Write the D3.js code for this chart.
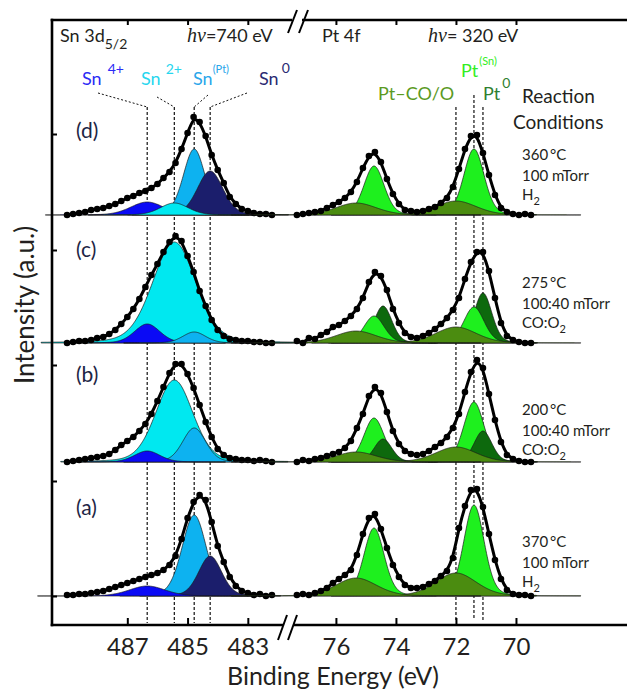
<!DOCTYPE html>
<html><head><meta charset="utf-8">
<script src="https://cdn.jsdelivr.net/npm/d3@7"></script>
<style>
body{margin:0;background:#fff}
svg{display:block}
text{font-family:Lato,'Open Sans',sans-serif;fill:#231f20}
</style>
</head><body>
<svg id="c" width="627" height="690"></svg>
<script>
// ---------------- DATA ----------------
// energy grids (eV)
const SN_E = [489.0,488.8,488.6,488.4,488.2,488.0,487.8,487.6,487.4,487.2,487.0,486.8,486.6,486.4,486.2,486.0,485.8,485.6,485.4,485.2,485.0,484.8,484.6,484.4,484.2,484.0,483.8,483.6,483.4,483.2,483.0,482.8,482.6,482.4,482.2];
const PT_E = [77.3,77.1,76.9,76.7,76.5,76.3,76.1,75.9,75.7,75.5,75.3,75.1,74.9,74.7,74.5,74.3,74.1,73.9,73.7,73.5,73.3,73.1,72.9,72.7,72.5,72.3,72.1,71.9,71.7,71.5,71.3,71.1,70.9,70.7,70.5,70.3,70.1,69.9,69.7,69.5];

// measured intensities (counts above each spectrum's baseline)
const snDotsA = [1,1,2,2,3,4,5,7,9,11,13,15,17,19,21,23,26,31,40,57,78,94,101,96,74,50,34,19,10,5,3,1,2,0,1];
const snDotsB = [0,1,2,3,4,5,6,8,12,17,21,25,31,38,48,61,75,89,98,98,88,74,57,40,25,13,7,4,3,2,2,1,2,1,0];
const snDotsC = [0,1,2,2,3,5,6,9,13,19,26,34,44,56,68,79,91,101,107,102,87,71,52,37,23,13,7,4,3,2,2,1,1,0,0];
const snDotsD = [0,1,2,3,5,6,7,9,11,14,17,19,22,24,27,31,37,43,52,66,82,98,93,79,60,45,32,18,11,6,4,2,1,1,0];
const ptDotsA = [1,2,1,3,5,8,13,17,21,26,41,62,78,82,67,48,31,19,11,8,8,9,12,15,20,25,38,68,90,106,107,89,62,36,17,6,2,1,1,0];
const ptDotsB = [0,2,1,3,4,6,8,10,14,21,34,48,66,75,69,50,31,18,11,8,7,8,11,15,19,25,34,48,70,90,102,94,68,42,20,7,3,1,0,0];
const ptDotsC = [2,0,5,4,8,11,16,18,22,27,34,45,61,71,67,53,34,20,10,6,5,7,10,14,19,25,33,45,64,81,91,91,72,45,20,7,3,1,0,0];
const ptDotsD = [0,1,2,3,4,7,10,13,17,23,33,47,59,63,53,36,21,11,5,4,3,4,6,8,12,17,28,46,66,79,80,62,40,20,7,3,1,0,1,0];

// spectrum baselines (vertical offsets, counts) for panels a..d
const panels = ["(a)","(b)","(c)","(d)"];
const offsets = [0, 134, 253, 381];

// Sn 3d5/2 components
const snNames   = ["Sn4+","Sn2+","Sn(Pt)","Sn0"];
const snCenters = [486.34, 485.44, 484.78, 484.25];
const snColors  = ["#0a0af5","#00e8f0","#0db2f0","#1b1e6c"];
const snHeightA = [10, 0, 81, 40];   const snWidthA = [1.4, 1.2, 0.95, 0.9];
const snHeightB = [11, 82, 34, 0];   const snWidthB = [1.0, 1.45, 0.9, 0.9];
const snHeightC = [19, 101, 11, 0];  const snWidthC = [1.0, 1.7, 0.9, 0.9];
const snHeightD = [13, 12, 66, 44];  const snWidthD = [1.3, 1.1, 0.85, 1.0];

// Pt 4f components (4f7/2 and 4f5/2)
const ptNames     = ["Pt(Sn)","Pt0","Pt-CO/O"];
const ptCenters72 = [71.4, 71.1, 72.0];
const ptCenters52 = [74.73, 74.43, 75.33];
const ptColors    = ["#1ef01e","#0d690d","#4b8c10"];
const ptWidths    = [0.8, 0.7, 1.6];
const ptH72A = [91, 0, 23];  const ptH52A = [68, 0, 18];
const ptH72B = [60, 31, 15]; const ptH52B = [44, 23, 10];
const ptH72C = [36, 50, 16]; const ptH52C = [27, 37, 12];
const ptH72D = [66, 0, 14];  const ptH52D = [49, 0, 12];

// axes
const snTicks = [487, 485, 483];
const ptTicks = [76, 74, 72, 70];
const yTicks  = [0, 115, 231, 346, 462];

// reaction conditions
const condTemp  = ["370\u2009°C","200\u2009°C","275\u2009°C","360\u2009°C"];
const condPress = ["100 mTorr","100:40 mTorr","100:40 mTorr","100 mTorr"];
const condGas   = [["H","2"],["CO:O","2"],["CO:O","2"],["H","2"]];

// ---------------- DRAW ----------------
const svg = d3.select("#c");
const xSn = d3.scaleLinear().domain([489.5, 481.6]).range([52, 290]);
const xPt = d3.scaleLinear().domain([77.53, 66.3]).range([290, 627]);
const y   = d3.scaleLinear().domain([-29, 576]).range([625, 20]);

const snDots = [snDotsA, snDotsB, snDotsC, snDotsD];
const ptDots = [ptDotsA, ptDotsB, ptDotsC, ptDotsD];
const snH = [snHeightA, snHeightB, snHeightC, snHeightD];
const snW = [snWidthA, snWidthB, snWidthC, snWidthD];
const ptH72 = [ptH72A, ptH72B, ptH72C, ptH72D];
const ptH52 = [ptH52A, ptH52B, ptH52C, ptH52D];

// guide dashed lines
const guides = svg.append("g").attr("stroke","#111").attr("stroke-width",1.2).attr("stroke-dasharray","3,2");
snCenters.forEach(c => guides.append("line").attr("x1",xSn(c)).attr("x2",xSn(c)).attr("y1",107).attr("y2",623));
ptCenters72.forEach((c,i) => guides.append("line").attr("x1",xPt(c)).attr("x2",xPt(c)).attr("y1", i===0 ? 95 : 107).attr("y2",620));

// connectors from labels
const conn = svg.append("g").attr("stroke","#111").attr("stroke-width",1).attr("stroke-dasharray","2,2").attr("fill","none");
const connStarts = [[98,93],[157,97],[208,95],[247,93]];
snCenters.forEach((c,i) => conn.append("line").attr("x1",connStarts[i][0]).attr("y1",connStarts[i][1]).attr("x2",xSn(c)).attr("y2",107));

// peak shape (pseudo-Voigt) evaluated from the fit parameters
function pv(e, c, h, w){ const t=(e-c)/w; return h*(0.8*Math.exp(-4*Math.LN2*t*t) + 0.2/(1+4*t*t)); }

function drawPeaks(g, xs, peaks, off){
  peaks.filter(p=>p.h>0).sort((a,b)=>b.h-a.h).forEach(p=>{
    const pts = d3.range(p.c-2.6*p.w, p.c+2.6*p.w+1e-9, 0.02).map(e=>[e, pv(e,p.c,p.h,p.w)]);
    const area = d3.area().x(d=>xs(d[0])).y0(y(off)).y1(d=>y(off+d[1])).curve(d3.curveLinear);
    g.append("path").attr("d",area(pts)).attr("fill",p.color).attr("stroke","#1a1a1a").attr("stroke-width",0.7);
  });
}
function drawData(g, xs, es, vals, off){
  const pts = es.map((e,i)=>[e, vals[i]]);
  const line = d3.line().x(d=>xs(d[0])).y(d=>y(off+d[1])).curve(d3.curveBasis);
  g.append("path").attr("d",line(pts)).attr("fill","none").attr("stroke","#000").attr("stroke-width",3);
  g.selectAll(null).data(pts).enter().append("circle")
    .attr("cx",d=>xs(d[0])).attr("cy",d=>y(off+d[1])).attr("r",3.3).attr("fill","#000");
}

const spectra = svg.append("g");
panels.forEach((lab,k)=>{
  const off = offsets[k];
  const gs = spectra.append("g");
  drawPeaks(gs, xSn, snCenters.map((c,i)=>({c, h:snH[k][i], w:snW[k][i], color:snColors[i]})), off);
  drawData(gs, xSn, SN_E, snDots[k], off);
  const gp = spectra.append("g");
  const pk = [];
  ptCenters72.forEach((c,i)=>pk.push({c, h:ptH72[k][i], w:ptWidths[i], color:ptColors[i]}));
  ptCenters52.forEach((c,i)=>pk.push({c, h:ptH52[k][i], w:ptWidths[i], color:ptColors[i]}));
  // greens by size, Pt-CO/O on top
  drawPeaks(gp, xPt, pk.filter(p=>p.color!==ptColors[2]), off);
  drawPeaks(gp, xPt, pk.filter(p=>p.color===ptColors[2]), off);
  drawData(gp, xPt, PT_E, ptDots[k], off);
});

// axes ticks
function clean(g){ g.select(".domain").remove(); g.selectAll(".tick line").attr("stroke","#000").attr("stroke-width",2); }
svg.append("g").attr("transform","translate(52,0)").call(d3.axisLeft(y).tickValues(yTicks).tickSize(-5).tickFormat("")).call(clean);
svg.append("g").attr("transform","translate(0,20)").call(d3.axisTop(xSn).tickValues(snTicks).tickSize(-5).tickFormat("")).call(clean);
svg.append("g").attr("transform","translate(0,20)").call(d3.axisTop(xPt).tickValues(ptTicks).tickSize(-5).tickFormat("")).call(clean);
const bx1 = svg.append("g").attr("transform","translate(0,625)").call(d3.axisBottom(xSn).tickValues(snTicks).tickSize(-7).tickPadding(13).tickFormat(d3.format("d"))).call(clean);
const bx2 = svg.append("g").attr("transform","translate(0,625)").call(d3.axisBottom(xPt).tickValues(ptTicks).tickSize(-7).tickPadding(13).tickFormat(d3.format("d"))).call(clean);
[bx1,bx2].forEach(g=>g.selectAll(".tick text").attr("font-family","Lato, sans-serif").attr("font-size",24).attr("fill","#231f20"));

// frame with breaks
const fr = svg.append("g").attr("stroke","#000").attr("stroke-width",2.6).attr("fill","none");
fr.append("line").attr("x1",52).attr("x2",52).attr("y1",18.7).attr("y2",626.3);
fr.append("line").attr("x1",50.7).attr("x2",292).attr("y1",20).attr("y2",20);
fr.append("line").attr("x1",302).attr("x2",627).attr("y1",20).attr("y2",20);
fr.append("line").attr("x1",50.7).attr("x2",283).attr("y1",625).attr("y2",625);
fr.append("line").attr("x1",293).attr("x2",627).attr("y1",625).attr("y2",625);
const br = svg.append("g").attr("stroke","#000").attr("stroke-width",2);
[[288,33,297,10],[299,33,308,10],[278,640,287,615],[288,640,297,615]].forEach(s=>br.append("line").attr("x1",s[0]).attr("y1",s[1]).attr("x2",s[2]).attr("y2",s[3]));

// text helpers
function txt(x,yy,parts,size,color){
  const t = svg.append("text").attr("x",x).attr("y",yy).attr("font-size",size);
  if(color) t.style("fill",color);
  parts.forEach(p=>{
    const s = t.append("tspan").text(p.t);
    if(p.size) s.attr("font-size",p.size);
    if(p.dy) s.attr("dy",p.dy);
    if(p.dx) s.attr("dx",p.dx);
    if(p.it) s.attr("font-family","'Liberation Serif',serif").attr("font-style","italic");
  });
  return t;
}
txt(60,42,[{t:"Sn 3d"},{t:"5/2",size:14,dy:7}],18);
txt(187,42,[{t:"hν",it:true,size:20},{t:"=740 eV"}],18);
txt(322,42,[{t:"Pt 4f"}],18);
txt(428,42,[{t:"hν",it:true,size:20},{t:"= 320 eV"}],18);

txt(82,85,[{t:"Sn"},{t:"4+",size:14,dy:-11,dx:6}],18,"#2b2bf5");
txt(141,85,[{t:"Sn"},{t:"2+",size:14,dy:-11,dx:5}],18,"#27d6ee");
txt(193,85,[{t:"Sn"},{t:"(Pt)",size:11,dy:-12}],18,"#2aa6ea");
txt(259,85,[{t:"Sn"},{t:"0",size:14,dy:-12,dx:3}],18,"#2a2a72");
txt(461,77,[{t:"Pt"},{t:"(Sn)",size:11,dy:-12,dx:1}],18,"#33ee22");
txt(378,100,[{t:"Pt\u2013CO/O"}],18,"#5b9a1f");
txt(483,100,[{t:"Pt"},{t:"0",size:14,dy:-12,dx:2}],18,"#2f7f2f");
txt(522,103,[{t:"Reaction"}],19);
txt(513,129,[{t:"Conditions"}],19);

const panelY = [515, 382, 257, 138];
const condY  = [547, 415, 288, 160];
panels.forEach((lab,k)=>{
  txt(76,panelY[k],[{t:lab}],21,"#1d2545");
  txt(522,condY[k],[{t:condTemp[k]}],15);
  txt(522,condY[k]+21,[{t:condPress[k]}],15);
  txt(522,condY[k]+40,[{t:condGas[k][0]},{t:condGas[k][1],size:11,dy:5}],15);
});

svg.append("text").attr("x",333).attr("y",685).attr("text-anchor","middle").attr("font-size",25).text("Binding Energy (eV)");
svg.append("text").attr("transform","translate(34,305) rotate(-90)").attr("text-anchor","middle").attr("font-size",26).text("Intensity (a.u.)");
</script>
</body></html>
